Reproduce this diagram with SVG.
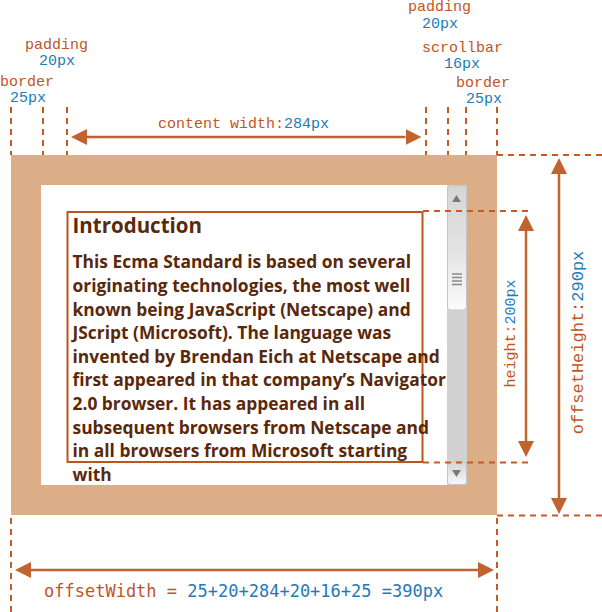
<svg xmlns="http://www.w3.org/2000/svg" width="602" height="612" viewBox="0 0 602 612">
  <style>
    .lbl { font-family: "Liberation Mono", "DejaVu Sans Mono", monospace; font-size: 15px; fill: #c0561f; }
    .big { font-size: 17px; }
    .sans { font-family: "DejaVu Sans Mono", monospace; }
    .num { fill: #1f7ab6; }
    .dash { stroke: #c45a24; stroke-width: 2; stroke-dasharray: 6,5; fill: none; }
    .arr { stroke: #c0632f; stroke-width: 2.5; fill: none; marker-start: url(#ah); marker-end: url(#ah); }
    .body { font-family: "Open Sans", "Noto Sans", sans-serif; font-weight: bold; font-size: 17.4px; fill: #5a280a; }
    .title { font-size: 20.5px; }
  </style>
  <defs>
    <marker id="ah" viewBox="0 0 16 16" markerWidth="16" markerHeight="16" markerUnits="userSpaceOnUse" refX="0" refY="8" orient="auto-start-reverse">
      <path d="M0,0 L16,8 L0,16 z" fill="#c0632f"/>
    </marker>
    <linearGradient id="thumb" x1="0" y1="0" x2="0" y2="1">
      <stop offset="0" stop-color="#d6d6d6"/>
      <stop offset="0.5" stop-color="#e2e2e2"/>
      <stop offset="1" stop-color="#fbfbfb"/>
    </linearGradient>
    <linearGradient id="btn" x1="0" y1="0" x2="0" y2="1">
      <stop offset="0" stop-color="#d4d4d4"/>
      <stop offset="1" stop-color="#f8f8f8"/>
    </linearGradient>
  </defs>

  <g id="box">
    <rect x="11" y="155" width="486" height="360" fill="#dbae88"/>
    <rect x="41" y="185" width="426" height="300" fill="#ffffff"/>
  </g>

  <g id="scrollbar">
    <rect x="447" y="185" width="20" height="300" fill="#d2d2d2"/>
    <rect x="447.5" y="186" width="19" height="124" rx="3" fill="url(#thumb)" stroke="#c4c4c4" stroke-width="1"/>
    <path d="M452,202 L456.5,195 L461,202 z" fill="#7a7a7a"/>
    <g stroke="#8a8a8a" stroke-width="1.5">
      <line x1="452" y1="274" x2="462" y2="274"/>
      <line x1="452" y1="277.5" x2="462" y2="277.5"/>
      <line x1="452" y1="281" x2="462" y2="281"/>
      <line x1="452" y1="284.5" x2="462" y2="284.5"/>
    </g>
    <rect x="447.5" y="462" width="19" height="22.5" rx="3" fill="url(#btn)" stroke="#c4c4c4" stroke-width="1"/>
    <path d="M452,470 L461,470 L456.5,477 z" fill="#7a7a7a"/>
  </g>

  <g id="content">
    <rect x="67.5" y="212" width="355" height="250" fill="none" stroke="#b8561e" stroke-width="2"/>
    <text x="72.5" y="233" class="body title">Introduction</text>
    <text class="body">
      <tspan x="72.5" y="268.3">This Ecma Standard is based on several</tspan>
      <tspan x="72.5" y="291.9">originating technologies, the most well</tspan>
      <tspan x="72.5" y="315.5">known being JavaScript (Netscape) and</tspan>
      <tspan x="72.5" y="339.1">JScript (Microsoft). The language was</tspan>
      <tspan x="72.5" y="362.7">invented by Brendan Eich at Netscape and</tspan>
      <tspan x="72.5" y="386.3">first appeared in that company’s Navigator</tspan>
      <tspan x="72.5" y="409.9">2.0 browser. It has appeared in all</tspan>
      <tspan x="72.5" y="433.5">subsequent browsers from Netscape and</tspan>
      <tspan x="72.5" y="457.1">in all browsers from Microsoft starting</tspan>
      <tspan x="72.5" y="480.7">with</tspan>
    </text>
  </g>

  <g id="labels">
    <text class="lbl" x="25" y="48.5">padding</text>
    <text class="lbl num" x="39" y="64.5">20px</text>
    <text class="lbl" x="0" y="85.5">border</text>
    <text class="lbl num" x="10" y="101.5">25px</text>
    <text class="lbl" x="408" y="11">padding</text>
    <text class="lbl num" x="422" y="27.5">20px</text>
    <text class="lbl" x="422" y="51.5">scrollbar</text>
    <text class="lbl num" x="444" y="67.5">16px</text>
    <text class="lbl" x="456" y="86.5">border</text>
    <text class="lbl num" x="466" y="102.5">25px</text>
    <text class="lbl" x="158" y="128.3">content width:<tspan class="num">284px</tspan></text>
    <text class="lbl" transform="translate(515,333.5) rotate(-90)" text-anchor="middle">height:<tspan class="num">200px</tspan></text>
    <text class="lbl big" transform="translate(583,342.5) rotate(-90)" text-anchor="middle">offsetHeight:<tspan class="num">290px</tspan></text>
    <text class="lbl big sans" x="44" y="597">offsetWidth = <tspan class="num">25+20+284+20+16+25 =390px</tspan></text>
  </g>

  <g id="connectors">
    <line class="dash" x1="11" y1="107" x2="11" y2="155"/>
    <line class="dash" x1="43" y1="107" x2="43" y2="155"/>
    <line class="dash" x1="67" y1="107" x2="67" y2="155"/>
    <line class="dash" x1="426" y1="107" x2="426" y2="155"/>
    <line class="dash" x1="448" y1="107" x2="448" y2="155"/>
    <line class="dash" x1="466" y1="107" x2="466" y2="155"/>
    <line class="dash" x1="497" y1="107" x2="497" y2="155"/>
    <line class="dash" x1="497" y1="155" x2="602" y2="155"/>
    <line class="dash" x1="423" y1="211" x2="531" y2="211"/>
    <line class="dash" x1="423" y1="462.5" x2="531" y2="462.5"/>
    <line class="dash" x1="497" y1="515.5" x2="602" y2="515.5"/>
    <line class="dash" x1="11" y1="518" x2="11" y2="612"/>
    <line class="dash" x1="497" y1="518" x2="497" y2="612"/>
    <line class="arr" x1="87" y1="137" x2="405.5" y2="137"/>
    <line class="arr" x1="526" y1="231" x2="526" y2="441"/>
    <line class="arr" x1="559" y1="174" x2="559" y2="498"/>
    <line class="arr" x1="31" y1="570" x2="478" y2="570"/>
  </g>
</svg>
